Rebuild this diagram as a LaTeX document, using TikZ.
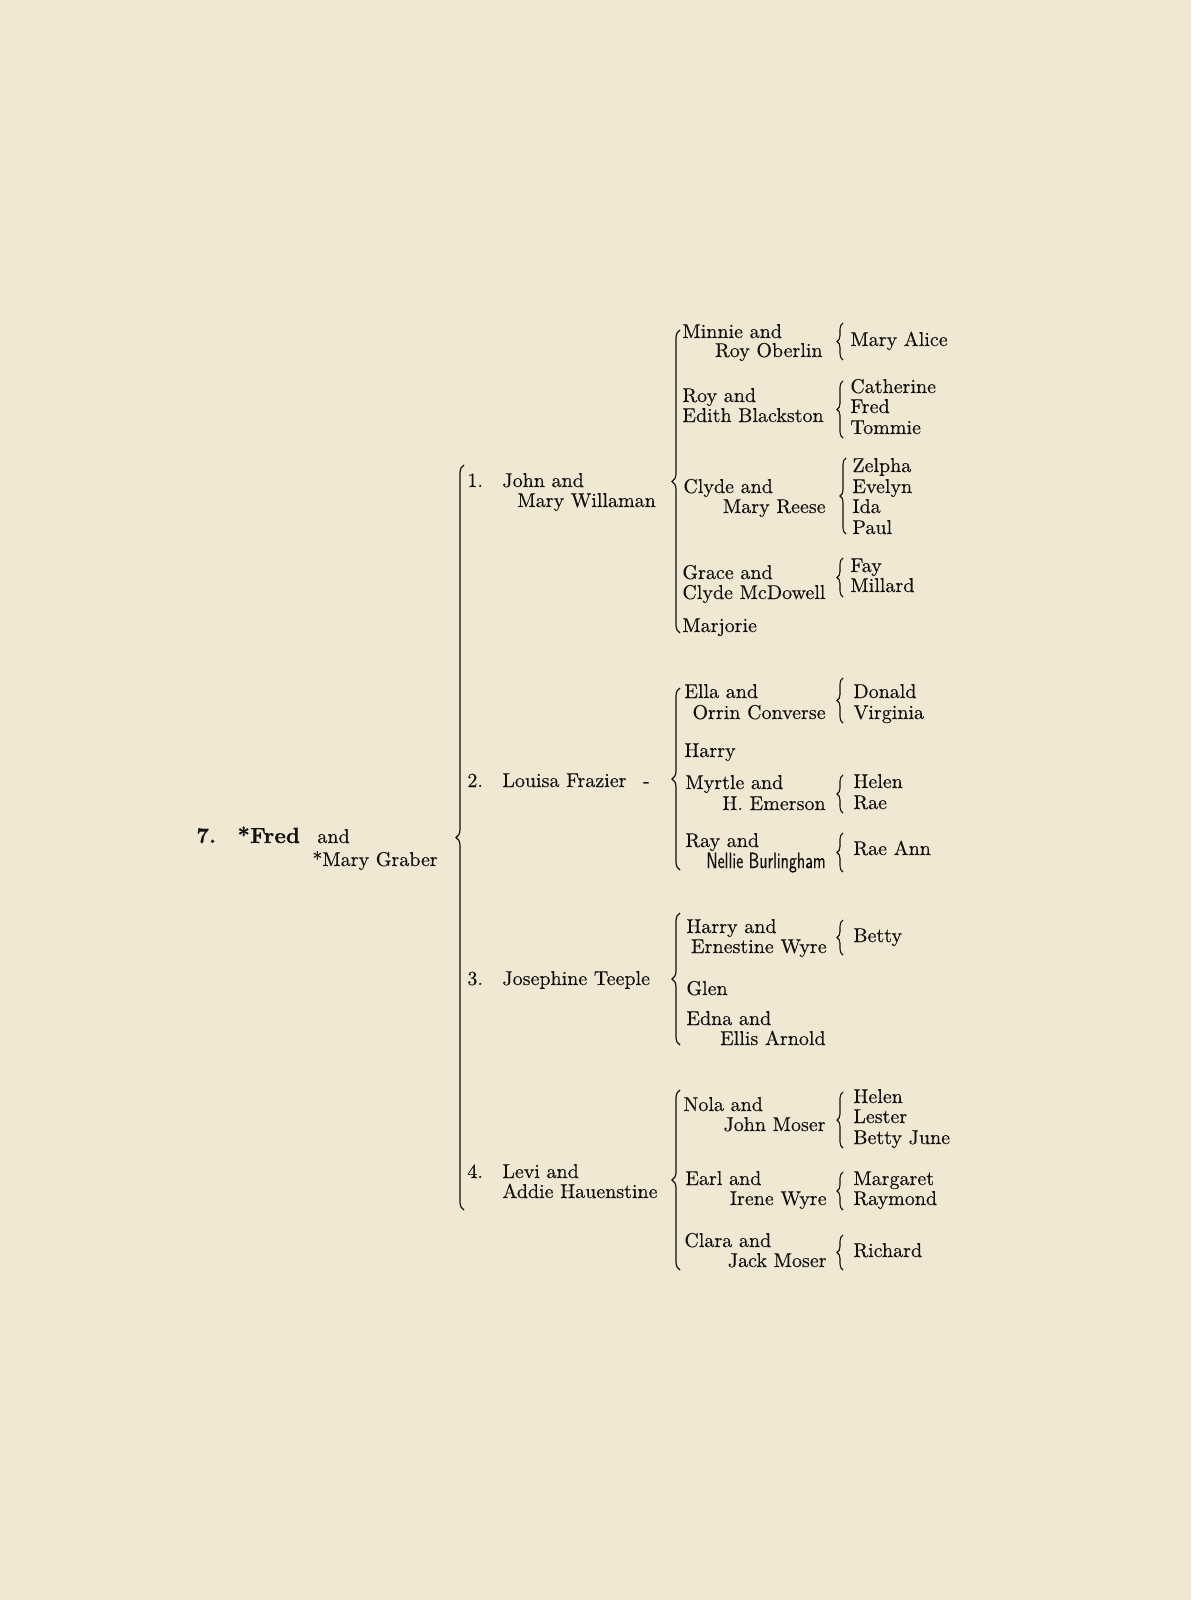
\documentclass[tikz,border=0pt]{standalone}
\usepackage{graphicx}
\usepackage{fontspec}
\setmainfont{lmroman10-regular.otf}[FakeBold=0.3, BoldFont=lmroman10-bold.otf]
\setsansfont{lmsans10-regular.otf}[FakeBold=0.4]
\usetikzlibrary{decorations.pathreplacing}
\definecolor{paper}{RGB}{240,232,211}
\definecolor{ink}{RGB}{18,16,14}

\begin{document}
\begin{tikzpicture}[
  x=0.5pt, y=-0.5pt,
  font=\fontsize{10}{10}\selectfont,
  every node/.style={inner sep=0pt, text=ink},
  nm/.style={anchor=base west},
  nmr/.style={anchor=base east},
  head/.style={anchor=base west, font=\fontsize{11}{11}\selectfont\bfseries},
  brc/.style={draw=ink, line width=0.6pt, decorate, decoration={brace, amplitude=4pt, mirror}},
  sbrc/.style={draw=ink, line width=0.55pt, decorate, decoration={brace, amplitude=3pt, mirror}}]
  \fill[paper] (0,0) rectangle (1191,1600);
  \useasboundingbox (0,0) rectangle (1191,1600);

  % the couple
  \node[head] (num) at (196,843) {7.};
  \node[head] (fred) at (237,843) {*Fred};
  \node[nm] (fredand) at (317,843) {and};
  \node[nm] (mary) at (312,866) {*Mary Graber};
  \coordinate (b0t) at (464,465);
  \coordinate (b0b) at (464,1210);
  \draw[brc] (b0t) -- (b0b);

  % children
  \node[nm] (n1) at (467,487) {1.};
  \node[nm] (c1) at (502,487) {John and};
  \node[nm] (c1b) at (517,507) {Mary Willaman};
  \node[nm] (n2) at (467,787) {2.};
  \node[nm] (c2) at (502,787) {Louisa Frazier\hspace{5pt} -};
  \node[nm] (n3) at (467,985) {3.};
  \node[nm] (c3) at (502,985) {Josephine Teeple};
  \node[nm] (n4) at (467,1178) {4.};
  \node[nm] (c4) at (502,1178) {Levi and};
  \node[nm] (c4b) at (502,1198) {Addie Hauenstine};

  % grandchildren
  \coordinate (b1t) at (680,330);
  \coordinate (b1b) at (680,633);
  \coordinate (b2t) at (680,688);
  \coordinate (b2b) at (680,870);
  \coordinate (b3t) at (680,913);
  \coordinate (b3b) at (680,1045);
  \coordinate (b4t) at (680,1090);
  \coordinate (b4b) at (680,1270);
  \draw[brc] (b1t) -- (b1b);
  \draw[brc] (b2t) -- (b2b);
  \draw[brc] (b3t) -- (b3b);
  \draw[brc] (b4t) -- (b4b);

  \node[nm] (g11) at (682,338) {Minnie and};
  \node[nmr] (g11b) at (823,357) {Roy Oberlin};
  \node[nm] (g12) at (682,402) {Roy and};
  \node[nm] (g12b) at (682,422) {Edith Blackston};
  \node[nm] (g13) at (683,493) {Clyde and};
  \node[nmr] (g13b) at (826,513) {Mary Reese};
  \node[nm] (g14) at (682,579) {Grace and};
  \node[nm] (g14b) at (682,599) {Clyde McDowell};
  \node[nm] (g15) at (682,632) {Marjorie};

  \node[nm] (g21) at (684,698) {Ella and};
  \node[nmr] (g21b) at (826,719) {Orrin Converse};
  \node[nm] (g22) at (684,757) {Harry};
  \node[nm] (g23) at (685,789) {Myrtle and};
  \node[nmr] (g23b) at (826,810) {H. Emerson};
  \node[nm] (g24) at (685,847) {Ray and};
  \node[nmr] (g24b) at (826,868) {\sffamily\scalebox{0.8}[1.1]{Nellie Burlingham}};

  \node[nm] (g31) at (686,933) {Harry and};
  \node[nmr] (g31b) at (827,953) {Ernestine Wyre};
  \node[nm] (g32) at (686,995) {Glen};
  \node[nm] (g33) at (686,1025) {Edna and};
  \node[nmr] (g33b) at (826,1045) {Ellis Arnold};

  \node[nm] (g41) at (683,1111) {Nola and};
  \node[nmr] (g41b) at (826,1131) {John Moser};
  \node[nm] (g42) at (685,1185) {Earl and};
  \node[nmr] (g42b) at (827,1205) {Irene Wyre};
  \node[nm] (g43) at (684,1247) {Clara and};
  \node[nmr] (g43b) at (827,1267) {Jack Moser};

  % great-grandchildren
  \coordinate (s11t) at (843,323);  \coordinate (s11b) at (843,360);
  \coordinate (s12t) at (843,381);  \coordinate (s12b) at (843,438);
  \coordinate (s13t) at (846,458);  \coordinate (s13b) at (846,534);
  \coordinate (s14t) at (843,558);  \coordinate (s14b) at (843,597);
  \coordinate (s21t) at (843,678);  \coordinate (s21b) at (843,723);
  \coordinate (s23t) at (843,775);  \coordinate (s23b) at (843,813);
  \coordinate (s24t) at (843,833);  \coordinate (s24b) at (843,872);
  \coordinate (s31t) at (843,920);  \coordinate (s31b) at (843,955);
  \coordinate (s41t) at (843,1092); \coordinate (s41b) at (843,1148);
  \coordinate (s42t) at (843,1172); \coordinate (s42b) at (843,1210);
  \coordinate (s43t) at (843,1235); \coordinate (s43b) at (843,1270);
  \foreach \s in {11,12,13,14,21,23,24,31,41,42,43}
    \draw[sbrc] (s\s t) -- (s\s b);

  \node[nm] (k11) at (850,346) {Mary Alice};
  \node[nm] (k12a) at (850,393) {Catherine};
  \node[nm] (k12b) at (850,413) {Fred};
  \node[nm] (k12c) at (850,434) {Tommie};
  \node[nm] (k13a) at (852,472) {Zelpha};
  \node[nm] (k13b) at (852,493) {Evelyn};
  \node[nm] (k13c) at (852,513) {Ida};
  \node[nm] (k13d) at (852,534) {Paul};
  \node[nm] (k14a) at (850,572) {Fay};
  \node[nm] (k14b) at (850,592) {Millard};

  \node[nm] (k21a) at (853,698) {Donald};
  \node[nm] (k21b) at (853,719) {Virginia};
  \node[nm] (k23a) at (853,788) {Helen};
  \node[nm] (k23b) at (853,809) {Rae};
  \node[nm] (k24) at (853,855) {Rae Ann};

  \node[nm] (k31) at (853,942) {Betty};

  \node[nm] (k41a) at (853,1103) {Helen};
  \node[nm] (k41b) at (853,1123) {Lester};
  \node[nm] (k41c) at (853,1144) {Betty June};
  \node[nm] (k42a) at (853,1185) {Margaret};
  \node[nm] (k42b) at (853,1205) {Raymond};
  \node[nm] (k43) at (853,1257) {Richard};
\end{tikzpicture}
\end{document}
